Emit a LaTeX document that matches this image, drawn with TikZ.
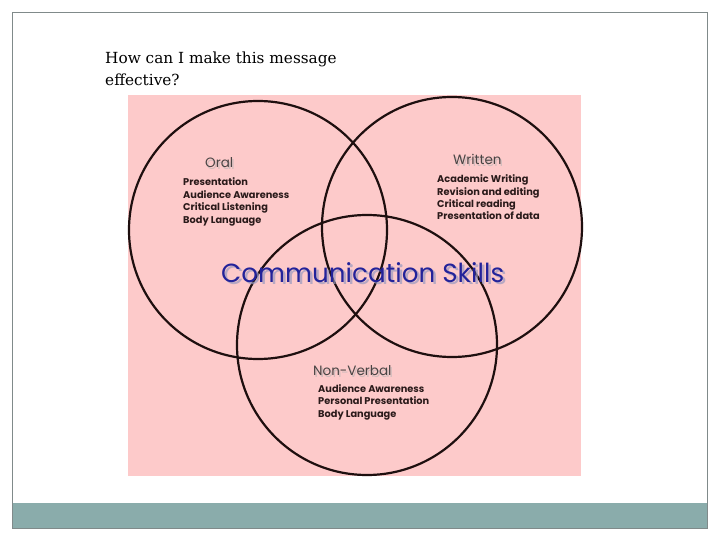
\documentclass[tikz,border=0pt]{standalone}
\usepackage{fontspec}
\setmainfont{DejaVu Serif}
\newfontfamily\gothic{Poppins}
\definecolor{pinkbg}{HTML}{FDCACA}
\definecolor{ring}{HTML}{1E0F0F}
\definecolor{frame}{HTML}{808A8A}
\definecolor{bar}{HTML}{8AACAB}
\definecolor{skillblue}{HTML}{23239A}
\definecolor{shadowblue}{HTML}{9A9AC0}
\definecolor{headgray}{HTML}{4A4444}
\definecolor{itemdark}{HTML}{2A1A1A}
\tikzset{
  ringline/.style={draw=ring, line width=2.2pt},
  heading/.style={anchor=base west, inner sep=0pt, text=headgray, font=\gothic\fontsize{13.5}{15}\selectfont},
  headshadow/.style={anchor=base west, inner sep=0pt, text=black!30, opacity=0.6, font=\gothic\fontsize{13.5}{15}\selectfont},
  itemlist/.style={anchor=base west, inner sep=0pt, text=itemdark, align=left, font=\gothic\bfseries\fontsize{9.8}{12.4}\selectfont},
}
\begin{document}
\begin{tikzpicture}[x=1pt,y=-1pt]
\useasboundingbox (0,0) rectangle (720,540);
\fill[white] (0,0) rectangle (720,540);
% slide frame and bar
\draw[frame, line width=1pt] (12.5,12.5) rectangle (707,528);
\fill[bar] (12.5,503) rectangle (707,528);
\draw[frame, line width=0.8pt] (12.5,528) -- (707,528);
% question (base anchor = last line)
\node[anchor=base west, inner sep=0pt, align=left, font=\fontsize{15.3}{22}\selectfont] (q) at (105,86) {How can I make this message\\effective?};
% picture
\fill[pinkbg] (128,95) rectangle (581,476);
\draw[ringline] (258,230) circle (129);
\draw[ringline] (452,227) circle (130);
\draw[ringline] (367,345) circle (130);
% headings
\node[headshadow] at (206.5,170) {Oral};
\node[heading] (oral) at (205,168) {Oral};
\node[headshadow] at (454.5,167) {Written};
\node[heading] (written) at (453,165) {Written};
\node[headshadow] at (314.5,377) {Non-Verbal};
\node[heading] (nonverbal) at (313,375) {Non-Verbal};
% item lists (base anchor = last line)
\node[itemlist] (orallist) at (183,223) {Presentation\\Audience Awareness\\Critical Listening\\Body Language};
\node[itemlist] (writtenlist) at (437,220) {Academic Writing\\Revision and editing\\Critical reading\\Presentation of data};
\node[itemlist] (nvlist) at (318,417) {Audience Awareness\\Personal Presentation\\Body Language};
% central title
\node[anchor=base west, inner sep=0pt, text=shadowblue, opacity=0.7] at (223.5,284.5) {\resizebox{283pt}{!}{\gothic\fontsize{30}{30}\selectfont Communication Skills}};
\node[anchor=base west, inner sep=0pt, text=skillblue] (title) at (221,282) {\resizebox{283pt}{!}{\gothic\fontsize{30}{30}\selectfont Communication Skills}};
\end{tikzpicture}
\end{document}
